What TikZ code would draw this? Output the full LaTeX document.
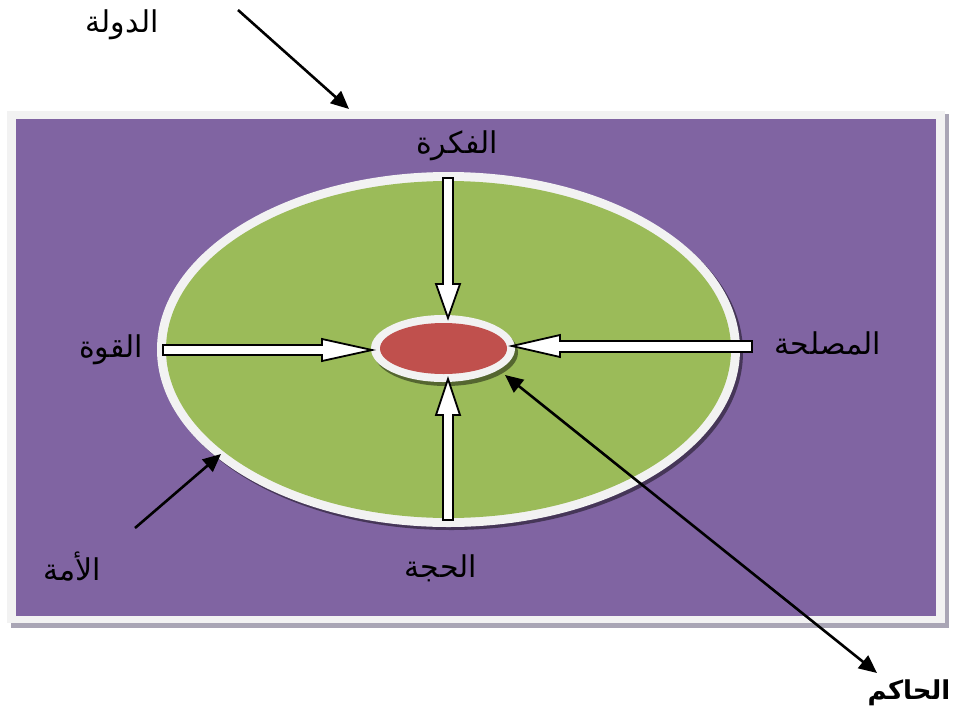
\documentclass[tikz,border=0pt]{standalone}
\usepackage{fontspec}
\newfontfamily\arabicfont[Script=Arabic]{DejaVu Sans}
\TeXXeTstate=1
\usetikzlibrary{arrows.meta,shapes.geometric}
\definecolor{purp}{HTML}{8064A2}
\definecolor{grn}{HTML}{9BBB59}
\definecolor{redd}{HTML}{C0504D}
\definecolor{ring}{HTML}{F2F2F2}
\definecolor{fshadow}{HTML}{A9A5B5}
\tikzset{
  lbl/.style={font=\arabicfont\fontsize{30}{34}\selectfont, inner sep=0pt},
  blockarrow/.style={fill=white, draw=black, line width=1.8pt, line join=miter},
  pointer/.style={line width=2.6pt, -{Triangle[length=18pt,width=16pt]}},
  pointer2/.style={line width=2.6pt, {Triangle[length=18pt,width=16pt]}-{Triangle[length=18pt,width=16pt]}}
}
\begin{document}
\begin{tikzpicture}[x=1pt,y=-1pt]
\useasboundingbox (0,0) rectangle (955,718);
% frame with shadow
\fill[fshadow] (11,114) rectangle (949,628);
\fill[ring] (7,111) rectangle (945,623);
\fill[purp] (16,119) rectangle (936,616);
% big ellipse
\fill[black,opacity=0.45] (451.5,352.5) ellipse [x radius=291.5pt, y radius=177.5pt];
\fill[ring] (448.5,349.5) ellipse [x radius=291.5pt, y radius=177.5pt];
\fill[grn] (448.5,349.5) ellipse [x radius=282.5pt, y radius=168.5pt];
% small ellipse
\fill[black,opacity=0.45] (446,352.5) ellipse [x radius=72pt, y radius=33.5pt];
\fill[ring] (443,348.5) ellipse [x radius=72pt, y radius=33.5pt];
\node[fill=redd, ellipse, inner sep=0pt, minimum width=127pt, minimum height=51pt] (ruler) at (443.5,348.5) {};
% block arrows
\draw[blockarrow] (443,178) -- (453,178) -- (453,284) -- (460,284) -- (448,318) -- (436,284) -- (443,284) -- cycle;
\draw[blockarrow] (443,520) -- (453,520) -- (453,415) -- (460,415) -- (448,379) -- (436,415) -- (443,415) -- cycle;
\draw[blockarrow] (163,345) -- (322,345) -- (322,339) -- (372,350) -- (322,361) -- (322,355) -- (163,355) -- cycle;
\draw[blockarrow] (752,341) -- (560,341) -- (560,335) -- (512,346) -- (560,357) -- (560,352) -- (752,352) -- cycle;
% labels
\node[lbl] (dawla) at (122,25) {\beginR الدولة\endR};
\node[lbl] (fikra) at (457,146) {\beginR الفكرة\endR};
\node[lbl] (maslaha) at (828,343) {\beginR المصلحة\endR};
\node[lbl] (quwwa) at (111,350) {\beginR القوة\endR};
\node[lbl] (hujja) at (441,568) {\beginR الحجة\endR};
\node[lbl] (umma) at (72,567) {\beginR الأمة\endR};
\node[lbl, font=\arabicfont\bfseries\fontsize{26}{30}\selectfont] (hakim) at (909,693) {\beginR الحاكم\endR};
% pointers
\coordinate (p1s) at (238,10);
\coordinate (p1e) at (349,109);
\draw[pointer] (p1s) -- (p1e);
\coordinate (p2s) at (135,528);
\coordinate (p2e) at (221,454);
\draw[pointer] (p2s) -- (p2e);
\coordinate (p3s) at (505,375);
\coordinate (p3e) at (877,673);
\draw[pointer2] (p3s) -- (p3e);
\end{tikzpicture}
\end{document}
